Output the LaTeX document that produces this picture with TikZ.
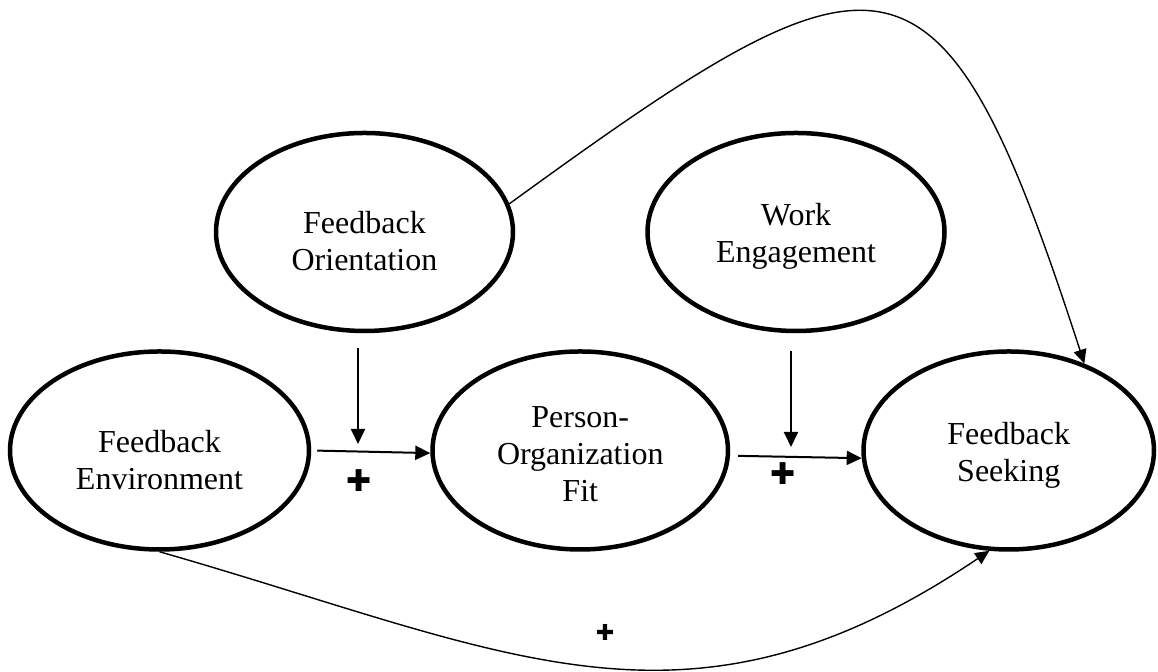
\documentclass[tikz,border=0pt]{standalone}
\usepackage{fontspec}
\setmainfont{Liberation Serif}
\newfontfamily\plusfont{DejaVu Sans}
\usetikzlibrary{arrows.meta,shapes.geometric,positioning}
\newcommand{\lift}[1]{\rule{0pt}{#1}}

\begin{document}
\begin{tikzpicture}[x=0.5pt,y=0.5pt,-{Triangle[length=7.5pt,width=7pt]},line width=1pt,
                    font=\fontsize{16}{18.5}\selectfont]
  \tikzstyle{factor}=[ellipse,draw=black,line width=2.25pt,inner sep=0,
                      minimum width=148.5pt,minimum height=99pt,align=center]
  \tikzstyle{curve}=[line width=0.7pt,-{Triangle[length=7pt,width=6.5pt]}]
  \tikzstyle{sign}=[font=\plusfont\fontsize{15}{15}\selectfont,inner sep=0]
  \tikzstyle{small sign}=[font=\plusfont\fontsize{11}{11}\selectfont,inner sep=0]

  \useasboundingbox (0,0) rectangle (1158,672);

  \node[factor,minimum width=149.5pt] (env) at (159.5,221.5) {\lift{21pt}Feedback\\Environment};
  \node[factor,minimum width=147.75pt] (pof) [right=59.5pt of env] {\lift{14.5pt}Person-\\Organization\\Fit};
  \node[factor,minimum width=145.25pt] (seek) [right=65.5pt of pof] {\lift{15.5pt}Feedback\\Seeking};
  \node[factor] (ori) at (364.5,440) {\lift{20.5pt}Feedback\\Orientation};
  \node[factor] (we) at (796,440) {\lift{15pt}Work\\Engagement};

  \coordinate (m1) at (358,228);
  \coordinate (m2) at (791,225);

  \draw[shorten <=3pt] (env.0) -- (pof.181);
  \draw[shorten <=4pt] (pof.-2) -- (seek.183);
  \draw[shorten <=7.5pt] (m1 |- ori.south) -- (m1);
  \draw[shorten <=8.8pt] (m2 |- we.south) -- (m2);
  \draw[curve] (ori.11) to[out=36,in=108,looseness=2] (seek.49);
  \draw[curve] (env.-90) to[out=-16,in=214,looseness=1.13] (seek.-101);

  \node[sign] (p1) at (359,191) {✚};
  \node[sign] (p2) at (783,198) {✚};
  \node[small sign] (p3) at (605,40) {✚};
\end{tikzpicture}
\end{document}
